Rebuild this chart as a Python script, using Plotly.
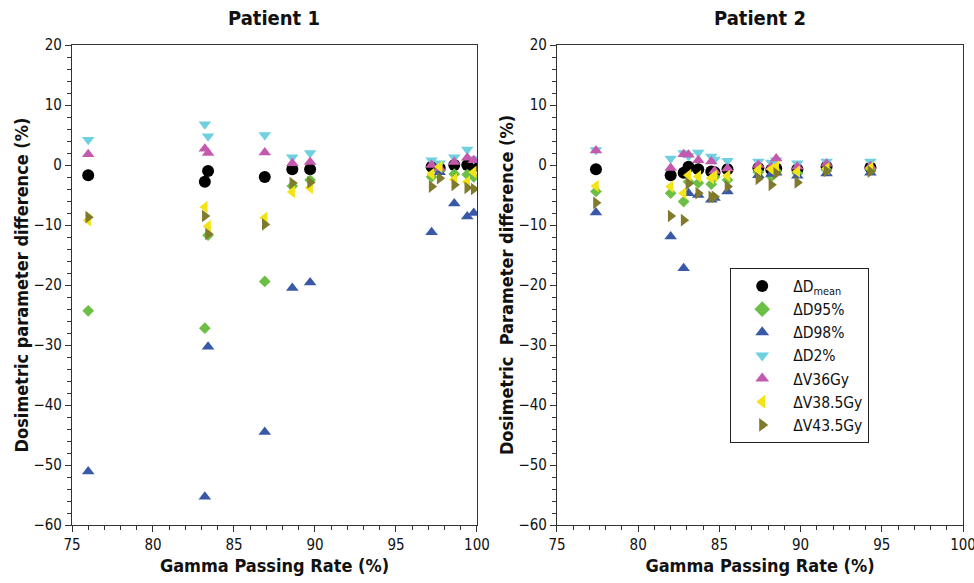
import plotly.graph_objects as go
from plotly.subplots import make_subplots

# ---------------- data ----------------
metric_names = ["ΔD<sub>mean</sub>", "ΔD95%", "ΔD98%", "ΔD2%", "ΔV36Gy", "ΔV38.5Gy", "ΔV43.5Gy"]
metric_colors = ["#000000", "#6cbf45", "#3a58a8", "#6fd0df", "#c45aae", "#f2e416", "#7f7a2c"]
metric_symbols = ["circle", "diamond", "triangle-up", "triangle-down", "triangle-up", "triangle-left", "triangle-right"]
metric_sizes = [12, 9, 11, 11, 11, 11, 11]

p1_gpr = [76.0, 83.2, 83.4, 86.9, 88.6, 89.7, 97.2, 97.7, 98.6, 99.4, 99.8]
p1_dmean = [-1.7, -2.8, -1.0, -2.0, -0.7, -0.7, -0.3, -0.5, 0.0, 0.0, -0.2]
p1_d95 = [-24.3, -27.2, -11.7, -19.4, -3.5, -2.5, -2.0, -1.0, -1.5, -1.6, -2.0]
p1_d98 = [-51.1, -55.3, -30.3, -44.5, -20.5, -19.6, -11.2, -1.2, -6.4, -8.6, -8.0]
p1_d2 = [4.2, 6.8, 4.8, 5.0, 1.3, 2.0, 0.8, 0.3, 1.3, 2.6, 1.0]
p1_v36 = [1.8, 2.7, 2.0, 2.1, 0.3, 0.5, 0.0, -0.5, 0.5, 1.2, 0.8]
p1_v385 = [-9.2, -7.0, -10.2, -8.8, -4.5, -3.8, -1.5, -0.3, -2.4, -2.8, -1.2]
p1_v435 = [-8.7, -8.5, -11.5, -9.9, -3.0, -2.9, -3.6, -2.2, -3.3, -3.8, -4.0]

p2_gpr = [77.4, 82.0, 82.8, 83.1, 83.7, 84.5, 84.7, 85.5, 87.4, 88.2, 88.5, 89.8, 91.6, 94.3]
p2_dmean = [-0.7, -1.7, -1.3, -0.3, -0.7, -1.1, -1.2, -0.7, -0.5, -0.8, -0.6, -0.7, -0.3, -0.4]
p2_d95 = [-4.4, -4.7, -6.1, -2.8, -3.0, -3.2, -2.0, -2.5, -1.2, -1.9, -1.0, -1.4, -0.8, -0.7]
p2_d98 = [-7.9, -11.9, -17.2, -4.7, -5.0, -5.8, -5.5, -4.4, -1.7, -1.5, -1.3, -1.8, -1.4, -1.3]
p2_d2 = [2.5, 1.1, 2.0, 1.5, 2.1, 1.4, 0.9, 0.7, 0.6, 0.4, 0.8, 0.3, 0.6, 0.6]
p2_v36 = [2.4, -0.5, 1.8, 1.7, 0.8, 0.6, -1.0, -0.6, 0.0, -0.3, 1.1, -0.3, 0.2, -0.2]
p2_v385 = [-3.5, -3.6, -4.7, -1.7, -1.9, -2.2, -1.8, -1.8, -0.8, -0.7, -0.3, -1.1, -0.6, -0.5]
p2_v435 = [-6.3, -8.5, -9.2, -3.1, -4.7, -5.3, -5.3, -3.6, -2.3, -3.3, -1.4, -2.9, -1.0, -1.1]

p1_series = [p1_dmean, p1_d95, p1_d98, p1_d2, p1_v36, p1_v385, p1_v435]
p2_series = [p2_dmean, p2_d95, p2_d98, p2_d2, p2_v36, p2_v385, p2_v435]

panel_titles = ["Patient 1", "Patient 2"]
y_titles = ["Dosimetric parameter difference (%)", "Dosimetric  Parameter difference (%)"]
x_title = "Gamma Passing Rate (%)"

FONT = "DejaVu Sans Condensed, DejaVu Sans, sans-serif"

fig = make_subplots(rows=1, cols=2, horizontal_spacing=0.09)

for col, (xs, series) in enumerate([(p1_gpr, p1_series), (p2_gpr, p2_series)], start=1):
    for i, ys in enumerate(series):
        fig.add_trace(go.Scatter(
            x=xs, y=ys, mode="markers", name=metric_names[i],
            marker=dict(symbol=metric_symbols[i], color=metric_colors[i], size=metric_sizes[i], line=dict(width=0)),
            showlegend=(col == 2), cliponaxis=True,
        ), row=1, col=col)

axis_common = dict(showline=True, linecolor="#333333", linewidth=1.2, mirror=True,
                   ticks="outside", ticklen=6, tickcolor="#333333", showgrid=False, zeroline=False,
                   ticklabeloverflow="allow",
                   tickfont=dict(family=FONT, size=15, color="#111111"))

for col in (1, 2):
    fig.update_xaxes(range=[75, 100], dtick=5, tick0=75,
                     minor=dict(dtick=1, ticks="outside", ticklen=4, tickcolor="#333333"),
                     title=dict(text="<b>" + x_title + "</b>", font=dict(family=FONT, size=18, color="#111111"), standoff=6),
                     **axis_common, row=1, col=col)
    fig.update_yaxes(range=[-60, 20], dtick=10,
                     minor=dict(dtick=2, ticks="outside", ticklen=4, tickcolor="#333333"),
                     title=dict(text="<b>" + y_titles[col - 1] + "</b>", font=dict(family=FONT, size=18, color="#111111"), standoff=0),
                     **axis_common, row=1, col=col)

fig.update_layout(
    width=974, height=583,
    margin=dict(l=72, r=11, t=45, b=58, autoexpand=False),
    plot_bgcolor="white", paper_bgcolor="white",
    xaxis=dict(domain=[0, 0.4545]), xaxis2=dict(domain=[0.5443, 1.0]),
    legend=dict(x=0.7385, y=0.535, xanchor="left", yanchor="top",
                bordercolor="#222222", borderwidth=1.2, bgcolor="white",
                font=dict(family=FONT, size=15.5, color="#111111"),
                tracegroupgap=0, itemsizing="constant", itemwidth=52),
)

for i, t in enumerate(panel_titles):
    dom = [0, 0.4545] if i == 0 else [0.5443, 1.0]
    fig.add_annotation(text="<b>" + t + "</b>", x=(dom[0] + dom[1]) / 2, y=1, xref="paper", yref="paper",
                       yshift=27, showarrow=False, xanchor="center", yanchor="middle",
                       font=dict(family=FONT, size=20, color="#111111"))

fig.write_html("out.html", config={"displayModeBar": False},
               post_script="document.body.style.margin='0';document.body.style.overflow='hidden';")
